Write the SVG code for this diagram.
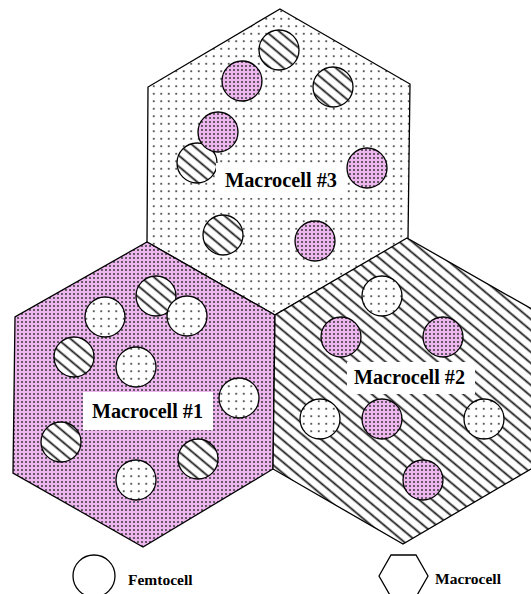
<svg xmlns="http://www.w3.org/2000/svg" width="531" height="594" viewBox="0 0 531 594">
<style>
.hex{stroke:#000;stroke-width:1.3;stroke-linejoin:miter}
.fem{stroke:#000;stroke-width:1.3}
.lbl{font-family:"Liberation Serif","Times New Roman",serif;font-weight:bold;font-size:20.5px;fill:#000}
.leg{font-family:"Liberation Serif","Times New Roman",serif;font-weight:bold;font-size:15.5px;fill:#000}
.box{fill:#fff}
</style>
<defs>
<pattern id="dotsW" width="7.5" height="7.5" patternUnits="userSpaceOnUse"><rect width="7.5" height="7.5" fill="#fff"/><circle cx="3.75" cy="3.75" r="1.05" fill="#333"/></pattern>
<pattern id="dotsP" width="4" height="4" patternUnits="userSpaceOnUse"><rect width="4" height="4" fill="#eeb6ee"/><circle cx="2" cy="2" r="1" fill="#3a3a3a"/></pattern>
<linearGradient id="sg" x1="0" y1="0" x2="0" y2="1">
<stop offset="0" stop-color="#fff"/><stop offset="0.3" stop-color="#fff"/><stop offset="0.5" stop-color="#1a1a1a"/><stop offset="0.7" stop-color="#fff"/><stop offset="1" stop-color="#fff"/>
</linearGradient>
<pattern id="stripes" width="20" height="8.4" patternUnits="userSpaceOnUse" patternTransform="rotate(40)"><rect width="20" height="8.4" fill="url(#sg)"/></pattern>
</defs>
<rect width="531" height="594" fill="#fff"/>

<g id="macrocell3">
<polygon class="hex" fill="url(#dotsW)" points="280,9 410,84 408,239 275,315 147,242 148,87"/>
<circle class="fem" fill="url(#stripes)" cx="279" cy="50" r="20"/>
<circle class="fem" fill="url(#dotsP)" cx="242" cy="81" r="20"/>
<circle class="fem" fill="url(#stripes)" cx="333" cy="87" r="20"/>
<circle class="fem" fill="url(#stripes)" cx="197" cy="163" r="20"/>
<circle class="fem" fill="url(#dotsP)" cx="218" cy="132" r="20"/>
<circle class="fem" fill="url(#dotsP)" cx="367" cy="168" r="20"/>
<circle class="fem" fill="url(#stripes)" cx="223" cy="235" r="20"/>
<circle class="fem" fill="url(#dotsP)" cx="315" cy="241" r="20"/>
<rect class="box" x="216" y="163" width="129" height="35"/>
<text class="lbl" x="225" y="187" textLength="112" lengthAdjust="spacingAndGlyphs">Macrocell #3</text>
</g>

<g id="macrocell1">
<polygon class="hex" fill="url(#dotsP)" points="147,242 275,315 273,469 143,547 13,473 15,317"/>
<circle class="fem" fill="url(#dotsW)" cx="105" cy="317" r="20"/>
<circle class="fem" fill="url(#stripes)" cx="156" cy="296" r="20"/>
<circle class="fem" fill="url(#dotsW)" cx="187" cy="316" r="20"/>
<circle class="fem" fill="url(#stripes)" cx="74" cy="357" r="20"/>
<circle class="fem" fill="url(#dotsW)" cx="136" cy="367" r="20"/>
<circle class="fem" fill="url(#dotsW)" cx="239" cy="398" r="20"/>
<circle class="fem" fill="url(#stripes)" cx="61" cy="442" r="20"/>
<circle class="fem" fill="url(#stripes)" cx="198" cy="459" r="20"/>
<circle class="fem" fill="url(#dotsW)" cx="136" cy="480" r="20"/>
<rect class="box" x="83" y="392" width="130" height="38"/>
<text class="lbl" x="92" y="418" textLength="111" lengthAdjust="spacingAndGlyphs">Macrocell #1</text>
</g>

<g id="macrocell2">
<polygon class="hex" fill="url(#stripes)" points="407,238 537,312 536,466 403,544 273,469 275,315"/>
<circle class="fem" fill="url(#dotsW)" cx="382" cy="296" r="20"/>
<circle class="fem" fill="url(#dotsP)" cx="341" cy="337" r="20"/>
<circle class="fem" fill="url(#dotsP)" cx="443" cy="337" r="20"/>
<circle class="fem" fill="url(#dotsW)" cx="320" cy="419" r="20"/>
<circle class="fem" fill="url(#dotsP)" cx="382" cy="419" r="20"/>
<circle class="fem" fill="url(#dotsW)" cx="484" cy="419" r="20"/>
<circle class="fem" fill="url(#dotsP)" cx="423" cy="480" r="20"/>
<rect class="box" x="347" y="362" width="128" height="32"/>
<text class="lbl" x="354" y="384" textLength="111" lengthAdjust="spacingAndGlyphs">Macrocell #2</text>
</g>

<g id="legend-femtocell">
<circle class="fem" fill="#fff" cx="94" cy="576" r="21"/>
<text class="leg" x="128" y="585">Femtocell</text>
</g>
<g id="legend-macrocell">
<polygon class="hex" fill="#fff" points="379,576 391,555 416,555 428,576 416,597 391,597"/>
<text class="leg" x="435" y="584">Macrocell</text>
</g>
</svg>
